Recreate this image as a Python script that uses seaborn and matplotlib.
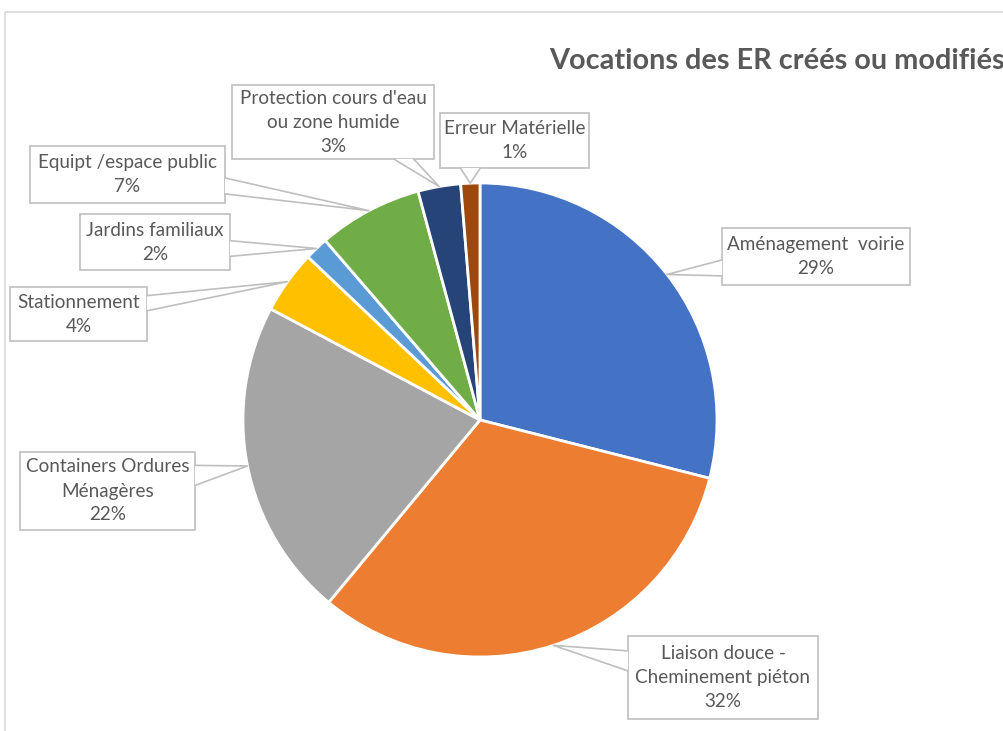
import matplotlib
matplotlib.use('Agg')
import matplotlib.pyplot as plt
import seaborn as sns
import numpy as np
from matplotlib.patches import Rectangle, Polygon

categories = ["Aménagement  voirie", "Liaison douce -\nCheminement piéton",
              "Containers Ordures\nMénagères", "Stationnement", "Jardins familiaux",
              "Equipt /espace public", "Protection cours d'eau\nou zone humide",
              "Erreur Matérielle"]
shares = [28.9, 32.0, 21.7, 4.3, 1.6, 7.1, 2.9, 1.3]
colors = ["#4472C4", "#ED7D31", "#A5A5A5", "#FFC000", "#5B9BD5", "#70AD47", "#264478", "#9E480E"]
title = "Vocations des ER créés ou modifiés"

# label boxes in pixels: (left, top, right, bottom)
boxes = [(722, 228, 910, 285), (628, 636, 818, 719), (20, 452, 195, 530),
         (10, 287, 147, 341), (80, 214, 230, 270), (30, 146, 225, 203),
         (232, 85, 434, 159), (440, 113, 589, 168)]

W, H = 1004, 731
sns.set_style("white")
plt.rcParams['font.family'] = ['Lato', 'DejaVu Sans']

fig = plt.figure(figsize=(W / 100, H / 100), dpi=100)
ax = fig.add_axes([0, 0, 1, 1])

cx, cy, r = 480, H - 420, 237
wedges, _ = ax.pie(shares, colors=colors, startangle=90, counterclock=False,
                   center=(cx, cy), radius=r,
                   wedgeprops=dict(edgecolor='white', linewidth=2))
ax.set_xlim(0, W)
ax.set_ylim(0, H)
ax.set_aspect('auto')
ax.axis('off')

# chart frame (cropped on the right and bottom)
ax.add_patch(Rectangle((5, -20), 1200, H - 12 + 20, fill=False, edgecolor='#d9d9d9', lw=1.2))

ax.text(549, H - 61, title, ha='left', va='center', fontsize=20.8, fontweight='bold', color='#595959')

total = sum(shares)
grey = '#bfbfbf'
for w, lab, val, (l, t, rr, b) in zip(wedges, categories, shares, boxes):
    ang = np.deg2rad((w.theta1 + w.theta2) / 2)
    tip = (cx + r * np.cos(ang), cy + r * np.sin(ang))
    x0, x1 = l, rr
    y0, y1 = H - b, H - t
    dx = max(x0 - tip[0], tip[0] - x1, 0)
    dy = max(y0 - tip[1], tip[1] - y1, 0)
    if dx > dy:
        ex = x0 if tip[0] < x0 else x1
        ln = y1 - y0
        c = np.clip(tip[1], y0 + 0.3 * ln, y1 - 0.3 * ln)
        hw = min(0.14 * ln, 10)
        p1, p2 = (ex, c - hw), (ex, c + hw)
    else:
        ey = y0 if tip[1] < y0 else y1
        ln = x1 - x0
        c = np.clip(tip[0], x0 + 0.15 * ln, x1 - 0.15 * ln)
        hw = min(0.1 * ln, 10)
        p1, p2 = (c - hw, ey), (c + hw, ey)
    ax.add_patch(Rectangle((x0, y0), x1 - x0, y1 - y0, facecolor='white', edgecolor=grey, lw=1.2, zorder=3))
    ax.add_patch(Polygon([p1, tip, p2], closed=True, facecolor='white', edgecolor='none', zorder=4))
    ax.plot([p1[0], tip[0], p2[0]], [p1[1], tip[1], p2[1]], color=grey, lw=1.2, zorder=5)
    ax.text((x0 + x1) / 2, (y0 + y1) / 2, f"{lab}\n{round(val / total * 100):.0f}%",
            ha='center', va='center', fontsize=13.6, color='#595959', linespacing=1.5, zorder=6)

fig.savefig('out.png', dpi=100)
